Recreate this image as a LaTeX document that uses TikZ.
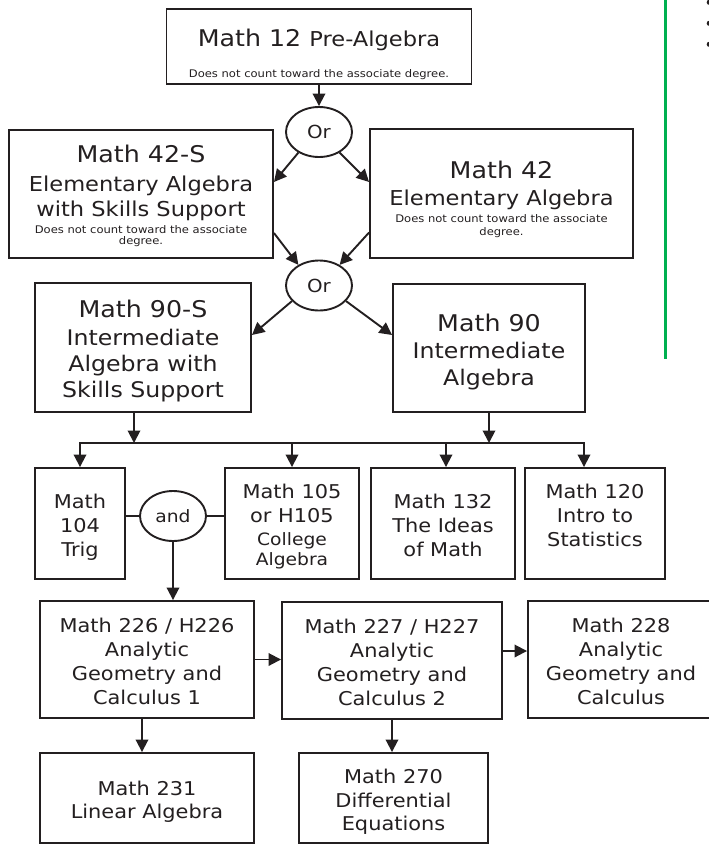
\documentclass[tikz,border=0pt]{standalone}
\usepackage{fontspec}
\setmainfont[FakeStretch=1.10]{DejaVu Sans}
\usetikzlibrary{arrows.meta,shapes.geometric,calc}
\definecolor{ink}{HTML}{231F20}
\definecolor{edge}{HTML}{00B050}
\newcommand\csize[2]{\fontsize{#1}{#2}\selectfont}
\newcommand\topgap[1]{\rule{0pt}{#1pt}}
\newcommand\botgap[1]{\rule[-#1pt]{0pt}{#1pt}}
\tikzset{
  course/.style={draw=ink, line width=1.9pt, inner sep=0pt, align=center, text=ink},
  gate/.style={draw=ink, line width=1.9pt, ellipse, minimum width=66pt, minimum height=50pt, inner sep=0pt, text=ink},
  arr/.style={draw=ink, line width=1.9pt, -{Triangle[length=12.5pt,width=12.5pt]}},
  link/.style={draw=ink, line width=1.9pt, line cap=rect},
}
\begin{document}
\begin{tikzpicture}[x=1pt,y=-1pt]
        \path[use as bounding box, clip] (0,0) rectangle (709,844);
        \node[course, minimum width=305pt, minimum height=75pt, font=\csize{23}{31.7}] (m12) at (319,46.5)
          {\topgap{37}Math 12 {\csize{20.5}{31.7}Pre-Algebra}\\ {\csize{10.5}{12}Does not count toward the associate degree.}\botgap{6.3}};
        \node[gate, font=\csize{18}{20}] (or1) at (319,132) {Or};
        \node[course, minimum width=264pt, minimum height=128pt, font=\csize{20.5}{25}] (m42s) at (141,194)
          {\topgap{33}{\csize{23}{25}Math 42-S}\\[4pt] Elementary Algebra\\ with Skills Support\\[-8.4pt]
           {\csize{10.5}{12}Does not count toward the associate}\\[-14pt] {\csize{10.5}{12}degree.}\botgap{13.7}};
        \node[course, minimum width=263pt, minimum height=129pt, font=\csize{20.5}{25}] (m42) at (501.5,193.5)
          {\topgap{49}{\csize{23}{25}Math 42}\\[2pt] Elementary Algebra\\[-7.7pt]
           {\csize{10.5}{12}Does not count toward the associate}\\[-12.3pt] {\csize{10.5}{12}degree.}\botgap{23}};
        \node[gate, font=\csize{18}{20}] (or2) at (319,285.5) {Or};
        \node[course, minimum width=216pt, minimum height=129pt, font=\csize{21.5}{26}] (m90s) at (143,347.5)
          {\topgap{34}{\csize{23}{26}Math 90-S}\\[2pt] Intermediate\\ Algebra with\\ Skills Support\botgap{15}};
        \node[course, minimum width=192pt, minimum height=128pt, font=\csize{21.5}{27}] (m90) at (489,348)
          {\topgap{47}{\csize{23}{27}Math 90}\\ Intermediate\\ Algebra\botgap{27}};
        \node[course, minimum width=90pt, minimum height=111pt, font=\csize{19}{24}] (m104) at (80,523.5)
          {\topgap{40}Math\\ 104\\ Trig\botgap{23}};
        \node[gate, font=\csize{17}{20}] (and) at (173,516) {and};
        \node[course, minimum width=134pt, minimum height=111pt, font=\csize{19}{24}] (m105) at (292,523.5)
          {\topgap{30}Math 105\\ or H105\\[-1pt] {\csize{17}{20}College}\\[-4pt] {\csize{17}{20}Algebra}\botgap{14}};
        \node[course, minimum width=144pt, minimum height=111pt, font=\csize{19}{24}] (m132) at (443,523.5)
          {\topgap{40}Math 132\\ The Ideas\\ of Math\botgap{23}};
        \node[course, minimum width=140pt, minimum height=111pt, font=\csize{19}{24}] (m120) at (595,523.5)
          {\topgap{30}Math 120\\ Intro to\\ Statistics\botgap{33}};
        \node[course, minimum width=214pt, minimum height=117pt, font=\csize{19}{24}] (m226) at (147,659.5)
          {\topgap{31}Math 226 / H226\\ Analytic\\ Geometry and\\ Calculus 1\botgap{14}};
        \node[course, minimum width=220pt, minimum height=117pt, font=\csize{19}{24}] (m227) at (392,660.5)
          {\topgap{31}Math 227 / H227\\ Analytic\\ Geometry and\\ Calculus 2\botgap{14}};
        \node[course, minimum width=186pt, minimum height=117pt, font=\csize{19}{24}] (m228) at (621,659.5)
          {\topgap{31}Math 228\\ Analytic\\ Geometry and\\ Calculus\botgap{14}};
        \node[course, minimum width=214pt, minimum height=90pt, font=\csize{19}{24}] (m231) at (147,798)
          {\topgap{42}Math 231\\[-1pt] Linear Algebra\botgap{25}};
        \node[course, minimum width=189pt, minimum height=90pt, font=\csize{19}{24}] (m270) at (393.5,798)
          {\topgap{30}Math 270\\ Differential\\[-1pt] Equations\botgap{13}};
        \coordinate (bus) at (80,443);
        \coordinate (busend) at (584,443);
        \draw[arr] (m12.south) -- (or1.north);
        \draw[arr] (or1.-135) -- ([yshift=12pt]m42s.east);
        \draw[arr] (or1.-45) -- ([yshift=11.5pt]m42.west);
        \draw[arr] ([yshift=-39pt]m42s.east) -- (or2.135);
        \draw[arr] ([yshift=-39pt]m42.west) -- (or2.45);
        \draw[arr] (or2.-150) -- ([yshift=12.5pt]m90s.east);
        \draw[arr] (or2.-30) -- ([yshift=13pt]m90.west);
        \draw[arr] ([xshift=-9pt]m90s.south) -- ([xshift=-9pt]m90s.south |- bus);
        \draw[arr] (m90.south) -- (m90.south |- bus);
        \draw[link] (bus) -- (busend);
        \draw[arr] (bus) -- (m104.north);
        \draw[arr] (bus -| m105.north) -- (m105.north);
        \draw[arr] ([xshift=3pt]bus -| m132.north) -- ([xshift=3pt]m132.north);
        \draw[arr] (busend) -- (busend |- m120.north);
        \draw[link, line cap=butt] (m104.east |- and) -- (and.west);
        \draw[link, line cap=butt] (and.east) -- (and -| m105.west);
        \draw[arr] (and.south) -- (and.south |- m226.north);
        \draw[arr] (m226.east) -- (m226.east -| m227.west);
        \draw[arr] ([yshift=9.5pt]m227.east) -- ([yshift=9.5pt]m227.east -| m228.west);
        \draw[arr] ([xshift=-5pt]m226.south) -- ([xshift=-5pt]m231.north);
        \draw[arr] (m227.south) -- (m227.south |- m270.north);
        \draw[edge, line width=3pt] (665,0) -- (665,359);
        \foreach \y in {2.3,23.3,44.3}
          \fill[ink] (709.3,\y) circle (2.6pt);
      \end{tikzpicture}
\end{document}
